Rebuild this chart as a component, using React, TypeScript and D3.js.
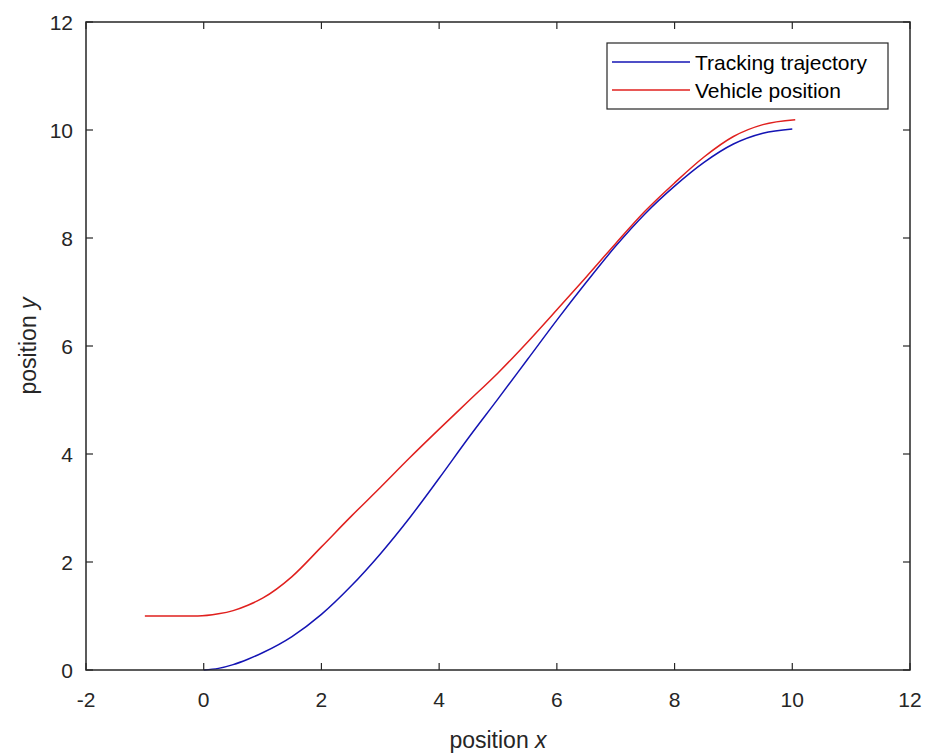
import React from "react";
import * as d3 from "d3";

const xTicks = [-2, 0, 2, 4, 6, 8, 10, 12];
const yTicks = [0, 2, 4, 6, 8, 10, 12];

const trackX = [0, 0.25, 0.5, 0.75, 1, 1.5, 2, 2.5, 3, 3.5, 4, 4.5, 5, 5.5, 6, 6.5, 7, 7.5, 8, 8.5, 9, 9.5, 10];
const trackY = [0, 0.03, 0.1, 0.2, 0.32, 0.62, 1.03, 1.55, 2.15, 2.82, 3.55, 4.3, 5.02, 5.75, 6.48, 7.18, 7.85, 8.45, 8.96, 9.4, 9.74, 9.94, 10.02];

const vehX = [-1, -0.5, -0.1, 0.25, 0.5, 0.75, 1, 1.5, 2, 2.5, 3, 3.5, 4, 4.5, 5, 5.5, 6, 6.5, 7, 7.5, 8, 8.5, 9, 9.5, 10.05];
const vehY = [1, 1, 1, 1.04, 1.1, 1.2, 1.33, 1.73, 2.28, 2.84, 3.38, 3.93, 4.46, 4.98, 5.5, 6.07, 6.67, 7.28, 7.9, 8.5, 9.02, 9.5, 9.88, 10.1, 10.19];

const seriesNames = ["Tracking trajectory", "Vehicle position"];
const seriesColors = ["#1414b4", "#e0201e"];

const W = 928, H = 754;
const L = 86, R = 910, T = 22, B = 670;
const axisColor = "#262626";
const font = "'Liberation Sans', Arial, Helvetica, sans-serif";

export default function App() {
  const x = d3.scaleLinear().domain([-2, 12]).range([L, R]);
  const y = d3.scaleLinear().domain([0, 12]).range([B, T]);
  const line = d3.line<[number, number]>().x(d => x(d[0])).y(d => y(d[1])).curve(d3.curveMonotoneX);
  const track: [number, number][] = trackX.map((v, i) => [v, trackY[i]]);
  const veh: [number, number][] = vehX.map((v, i) => [v, vehY[i]]);
  const tl = 7;
  const lgX = 607, lgY = 43, lgW = 281, lgH = 66;
  return (
    <svg width={W} height={H} style={{ position: "absolute", left: 0, top: 0, background: "#fff" }}>
      <rect x={0} y={0} width={W} height={H} fill="#fff" />
      <path d={line(track) || ""} fill="none" stroke={seriesColors[0]} strokeWidth={1.5} />
      <path d={line(veh) || ""} fill="none" stroke={seriesColors[1]} strokeWidth={1.5} />
      <rect x={L} y={T} width={R - L} height={B - T} fill="none" stroke={axisColor} strokeWidth={1.5} />
      {xTicks.map(t => (
        <g key={"x" + t}>
          <line x1={x(t)} x2={x(t)} y1={B} y2={B - tl} stroke={axisColor} strokeWidth={1.2} />
          <line x1={x(t)} x2={x(t)} y1={T} y2={T + tl} stroke={axisColor} strokeWidth={1.2} />
          <text x={x(t)} y={707} textAnchor="middle" fontFamily={font} fontSize={21} fill={axisColor}>{t}</text>
        </g>
      ))}
      {yTicks.map(t => (
        <g key={"y" + t}>
          <line x1={L} x2={L + tl} y1={y(t)} y2={y(t)} stroke={axisColor} strokeWidth={1.2} />
          <line x1={R} x2={R - tl} y1={y(t)} y2={y(t)} stroke={axisColor} strokeWidth={1.2} />
          <text x={73} y={y(t) + 7.5} textAnchor="end" fontFamily={font} fontSize={21} fill={axisColor}>{t}</text>
        </g>
      ))}
      <text x={(L + R) / 2} y={748} textAnchor="middle" fontFamily={font} fontSize={23} fill={axisColor}>
        position <tspan fontStyle="italic">x</tspan>
      </text>
      <text transform={`translate(36,${(T + B) / 2}) rotate(-90)`} textAnchor="middle" fontFamily={font} fontSize={23} fill={axisColor}>
        position <tspan fontStyle="italic">y</tspan>
      </text>
      <rect x={lgX} y={lgY} width={lgW} height={lgH} fill="#fff" stroke={axisColor} strokeWidth={1.2} />
      {seriesNames.map((n, i) => (
        <g key={n}>
          <line x1={612} x2={690} y1={62 + i * 28} y2={62 + i * 28} stroke={seriesColors[i]} strokeWidth={1.5} />
          <text x={695} y={62 + i * 28 + 7.5} fontFamily={font} fontSize={21} fill="#000">{n}</text>
        </g>
      ))}
    </svg>
  );
}
